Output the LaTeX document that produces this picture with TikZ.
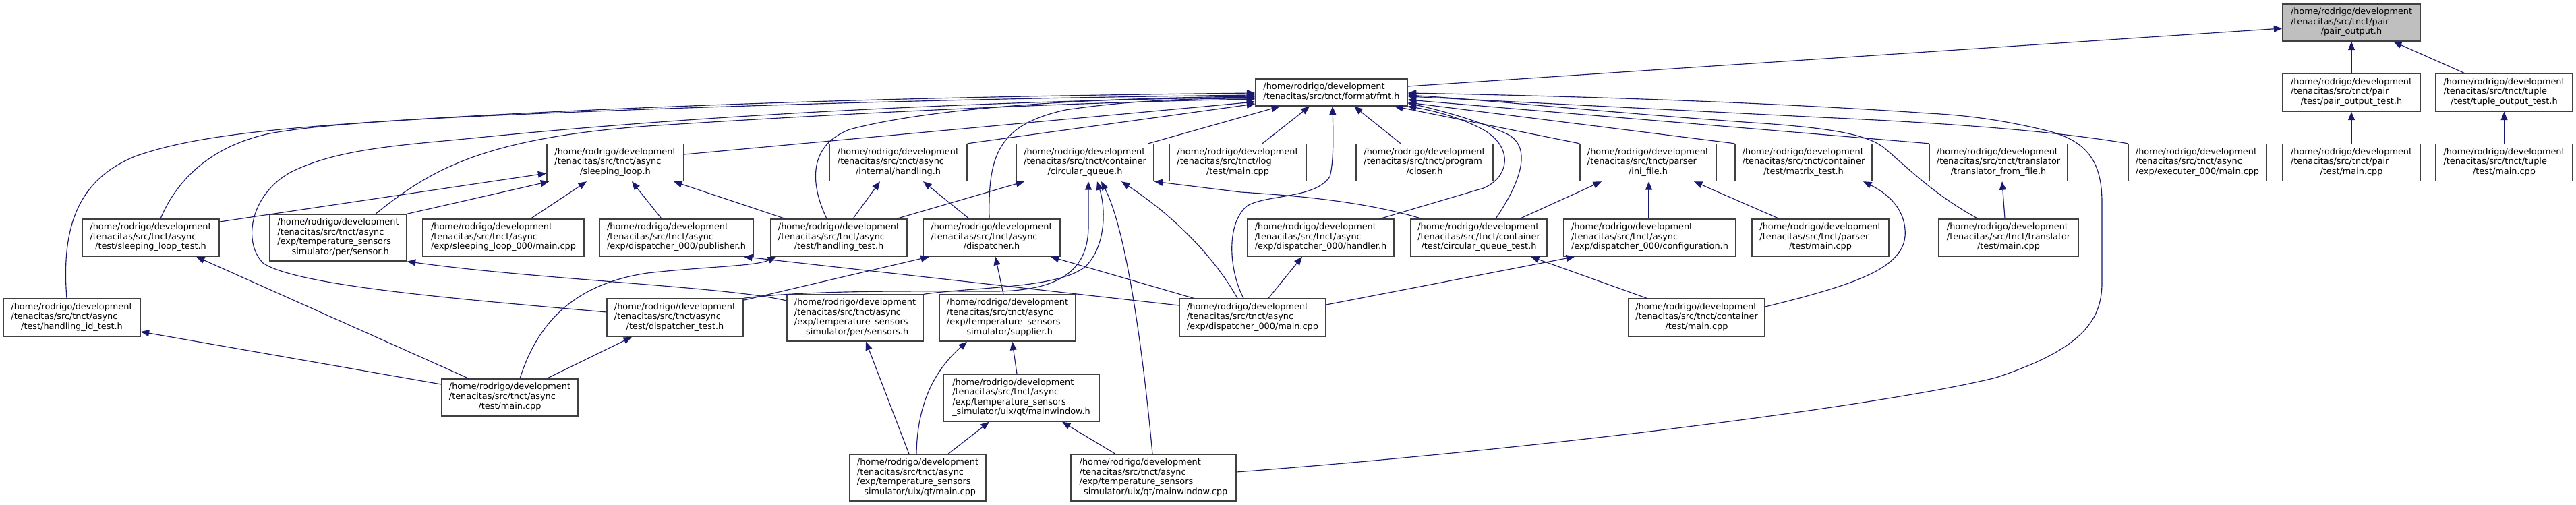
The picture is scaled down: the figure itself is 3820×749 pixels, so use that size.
\documentclass[tikz,border=0pt]{standalone}
\usepackage{fontspec}
\setmainfont{DejaVu Sans}
\usetikzlibrary{arrows.meta}
\definecolor{edgecol}{HTML}{191970}
\definecolor{boxcol}{HTML}{404040}
\definecolor{hlfill}{HTML}{BFBFBF}
\newcommand\labtwo[2]{\begin{tabular}{@{}l@{}}#1\\\multicolumn{1}{@{}c@{}}{#2}\end{tabular}}
\newcommand\labthree[3]{\begin{tabular}{@{}l@{}}#1\\#2\\\multicolumn{1}{@{}c@{}}{#3}\end{tabular}}
\newcommand\labfour[4]{\begin{tabular}{@{}l@{}}#1\\#2\\#3\\\multicolumn{1}{@{}c@{}}{#4}\end{tabular}}
\newcommand\hrd{/home/rodrigo/development}
\newcommand\tsa{/tenacitas/src/tnct/async}
\newcommand\ets{/exp/temperature\_sensors}
\newcommand\nd[6]{\node[box,minimum width=#4pt,minimum height=#5pt] (#1) at (#2,#3) {#6};}
\begin{document}
\begin{tikzpicture}[x=1pt,y=-1pt,
 box/.style={draw=boxcol,line width=1.4pt,fill=white,inner sep=0pt,font=\fontsize{12.85}{14.5}\selectfont},
 hl/.style={box,fill=hlfill},
 edge/.style={draw=edgecol,line width=1.15pt,-{Triangle[length=12.5pt,width=10pt]}}]
\useasboundingbox (0,0) rectangle (3820,749);
% rank 0/1
\node[hl,minimum width=204pt,minimum height=55pt] (P0) at (3487,33.5) {\labthree{\hrd}{/tenacitas/src/tnct/pair}{/pair\_output.h}};
\nd{fmt}{1974.5}{137}{225}{40}{\labtwo{\hrd}{/tenacitas/src/tnct/format/fmt.h}}
\nd{pot}{3487}{137}{204}{56}{\labthree{\hrd}{/tenacitas/src/tnct/pair}{/test/pair\_output\_test.h}}
\nd{tot}{3713.5}{137}{203}{56}{\labthree{\hrd}{/tenacitas/src/tnct/tuple}{/test/tuple\_output\_test.h}}
% rank 2
\nd{sl}{912.5}{241}{203}{55}{\labthree{\hrd}{\tsa}{/sleeping\_loop.h}}
\nd{hdl}{1332}{241}{204}{55}{\labthree{\hrd}{\tsa}{/internal/handling.h}}
\nd{cq}{1609}{241}{204}{55}{\labthree{\hrd}{/tenacitas/src/tnct/container}{/circular\_queue.h}}
\nd{logm}{1835.5}{241}{203}{55}{\labthree{\hrd}{/tenacitas/src/tnct/log}{/test/main.cpp}}
\nd{clo}{2112.5}{241}{203}{55}{\labthree{\hrd}{/tenacitas/src/tnct/program}{/closer.h}}
\nd{ini}{2444}{241}{202}{55}{\labthree{\hrd}{/tenacitas/src/tnct/parser}{/ini\_file.h}}
\nd{mat}{2674.5}{241}{203}{55}{\labthree{\hrd}{/tenacitas/src/tnct/container}{/test/matrix\_test.h}}
\nd{tff}{2963.5}{241}{205}{55}{\labthree{\hrd}{/tenacitas/src/tnct/translator}{/translator\_from\_file.h}}
\nd{exe}{3258.5}{241}{205}{55}{\labthree{\hrd}{\tsa}{/exp/executer\_000/main.cpp}}
\nd{pm}{3487}{241}{204}{55}{\labthree{\hrd}{/tenacitas/src/tnct/pair}{/test/main.cpp}}
\nd{tm}{3713.5}{241}{203}{55}{\labthree{\hrd}{/tenacitas/src/tnct/tuple}{/test/main.cpp}}
% rank 3
\nd{slt}{223.5}{352.5}{203}{55}{\labthree{\hrd}{\tsa}{/test/sleeping\_loop\_test.h}}
\nd{sen}{501.5}{352.5}{203}{69}{\labfour{\hrd}{\tsa}{\ets}{\_simulator/per/sensor.h}}
\nd{slz}{746.5}{352.5}{239}{55}{\labthree{\hrd}{\tsa}{/exp/sleeping\_loop\_000/main.cpp}}
\nd{pub}{1003}{352.5}{228}{55}{\labthree{\hrd}{\tsa}{/exp/dispatcher\_000/publisher.h}}
\nd{ht}{1244}{352.5}{202}{55}{\labthree{\hrd}{\tsa}{/test/handling\_test.h}}
\nd{dis}{1470.5}{352.5}{203}{55}{\labthree{\hrd}{\tsa}{/dispatcher.h}}
\nd{han}{1958.5}{352.5}{217}{55}{\labthree{\hrd}{\tsa}{/exp/dispatcher\_000/handler.h}}
\nd{cqt}{2193}{352.5}{202}{55}{\labthree{\hrd}{/tenacitas/src/tnct/container}{/test/circular\_queue\_test.h}}
\nd{cfg}{2446.5}{352.5}{255}{55}{\labthree{\hrd}{\tsa}{/exp/dispatcher\_000/configuration.h}}
\nd{prm}{2699.5}{352.5}{203}{55}{\labthree{\hrd}{/tenacitas/src/tnct/parser}{/test/main.cpp}}
\nd{trm}{2978.5}{352.5}{207}{55}{\labthree{\hrd}{/tenacitas/src/tnct/translator}{/test/main.cpp}}
% rank 4
\nd{hit}{106.5}{471}{203}{56}{\labthree{\hrd}{\tsa}{/test/handling\_id\_test.h}}
\nd{dt}{1001}{471}{202}{56}{\labthree{\hrd}{\tsa}{/test/dispatcher\_test.h}}
\nd{sens}{1268}{471.5}{202}{69}{\labfour{\hrd}{\tsa}{\ets}{\_simulator/per/sensors.h}}
\nd{sup}{1494}{471.5}{202}{69}{\labfour{\hrd}{\tsa}{\ets}{\_simulator/supplier.h}}
\nd{dzm}{1857.5}{471}{217}{56}{\labthree{\hrd}{\tsa}{/exp/dispatcher\_000/main.cpp}}
\nd{ctm}{2516}{471}{202}{56}{\labthree{\hrd}{/tenacitas/src/tnct/container}{/test/main.cpp}}
% rank 5/6
\nd{atm}{756}{589.5}{202}{55}{\labthree{\hrd}{\tsa}{/test/main.cpp}}
\nd{mwh}{1514.5}{590}{231}{70}{\labfour{\hrd}{\tsa}{\ets}{\_simulator/uix/qt/mainwindow.h}}
\nd{uxm}{1361}{708.5}{202}{69}{\labfour{\hrd}{\tsa}{\ets}{\_simulator/uix/qt/main.cpp}}
\nd{mwc}{1710.5}{708.5}{245}{69}{\labfour{\hrd}{\tsa}{\ets}{\_simulator/uix/qt/mainwindow.cpp}}
% edges to pair_output.h
\draw[edge] ([yshift=9pt]fmt.east) -- ([yshift=-8.5pt]P0.west);
\draw[edge] (pot.north) -- (P0.south);
\draw[edge] ([xshift=-59.5pt]tot.north) -- ([xshift=62pt]P0.south);
\draw[edge] (pm.north) -- (pot.south);
\draw[edge] (tm.north) -- (tot.south);
% edges to fmt.h, left side
\draw[edge] ([xshift=-7.5pt]hit.north) .. controls (90,330) and (120,265) .. (200,232) .. controls (290,200) and (420,188) .. (700,172) .. controls (1100,150) and (1500,142) .. ([yshift=-1pt]fmt.west);
\draw[edge] ([xshift=14.5pt]slt.north) .. controls (265,260) and (320,215) .. (400,198) .. controls (500,180) and (700,172) .. (960,162) .. controls (1300,150) and (1600,144) .. ([yshift=-4pt]fmt.west);
\draw[edge] ([yshift=8pt]dt.west) .. controls (700,445) and (440,425) .. (390,390) .. controls (360,360) and (370,290) .. (430,256) .. controls (500,220) and (600,215) .. (700,205) .. controls (1100,165) and (1500,150) .. ([yshift=-7pt]fmt.west);
\draw[edge] ([xshift=55.5pt]sen.north) .. controls (640,250) and (720,205) .. (960,187) .. controls (1300,165) and (1600,152) .. ([yshift=-10pt]fmt.west);
\draw[edge] ([yshift=12pt]sl.east) -- ([yshift=-14pt]fmt.west);
\draw[edge] (hdl.north east) -- ([yshift=-17pt]fmt.west);
\draw[edge] ([xshift=-18pt]ht.north) .. controls (1200,270) and (1200,215) .. (1260,192) .. controls (1380,160) and (1600,146) .. ([yshift=-6pt]fmt.west);
\draw[edge] ([xshift=-3.5pt]dis.north) .. controls (1465,230) and (1480,185) .. (1580,163) .. controls (1680,148) and (1780,146) .. ([yshift=-9pt]fmt.west);
% edges to fmt.h, bottom
\draw[edge] ([xshift=94pt]cq.north) -- ([xshift=-76.5pt]fmt.south);
\draw[edge] ([xshift=36.5pt]logm.north) -- ([xshift=-32.5pt]fmt.south);
\draw[edge] ([xshift=-35.5pt]clo.north) -- ([xshift=33.5pt]fmt.south);
\draw[edge] (ini.north west) -- ([xshift=93.5pt]fmt.south);
\draw[edge] ([xshift=-13.5pt]dzm.north) .. controls (1822,400) and (1818,330) .. (1850,305) .. controls (1880,288) and (1950,295) .. (1972,262) .. controls (1978,240) and (1977,200) .. ([xshift=1.5pt]fmt.south);
% edges to fmt.h, right side
\draw[edge] ([xshift=88.5pt]han.north) -- (2200,279) .. controls (2240,262) and (2245,215) .. (2195,190) .. controls (2160,172) and (2120,163) .. (fmt.south east);
\draw[edge] ([xshift=25pt]cqt.north) .. controls (2255,270) and (2275,215) .. (2231,197) .. controls (2190,178) and (2130,162) .. ([yshift=-16pt]fmt.east);
\draw[edge] (mat.north west) -- ([yshift=-15pt]fmt.east);
\draw[edge] (tff.north west) -- ([yshift=-11pt]fmt.east);
\draw[edge] (exe.north west) .. controls (3050,195) and (2900,183) .. (2700,174) -- ([yshift=-6pt]fmt.east);
\draw[edge] ([xshift=-45.5pt]trm.north) .. controls (2870,290) and (2830,250) .. (2795,220) .. controls (2770,200) and (2720,190) .. (2600,182) .. controls (2400,168) and (2200,148) .. ([yshift=-4pt]fmt.east);
\draw[edge] ([yshift=8.5pt]mwc.east) .. controls (2300,665) and (2800,600) .. (2960,560) .. controls (3080,520) and (3117,480) .. (3117,420) -- (3117,300) .. controls (3117,240) and (3095,210) .. (3040,195) .. controls (2960,175) and (2900,170) .. (2860,168) .. controls (2600,150) and (2300,142) .. ([yshift=-1pt]fmt.east);
% sleeping_loop.h
\draw[edge] ([yshift=23.5pt]slt.east) -- ([yshift=-16pt]sl.west);
\draw[edge] (sen.north east) -- ([xshift=4pt]sl.south west);
\draw[edge] ([xshift=40.5pt]slz.north) -- ([xshift=-42.5pt]sl.south);
\draw[edge] ([xshift=-22pt]pub.north) -- ([xshift=24.5pt]sl.south);
\draw[edge] ([xshift=-80pt]ht.north) -- ([xshift=86.5pt]sl.south);
% handling.h
\draw[edge] ([xshift=21pt]ht.north) -- ([xshift=-27pt]hdl.south);
\draw[edge] ([xshift=-33.5pt]dis.north) -- ([xshift=37pt]hdl.south);
% circular_queue.h
\draw[edge] ([xshift=86pt]ht.north) -- ([xshift=-90pt]cq.south);
\draw[edge] (dt.north east) .. controls (1200,430) and (1350,432) .. (1480,432) .. controls (1580,430) and (1614,395) .. (1614,335) -- ([xshift=5pt]cq.south);
\draw[edge] (sens.north east) .. controls (1450,425) and (1570,428) .. (1610,395) .. controls (1640,365) and (1640,310) .. ([xshift=18pt]cq.south);
\draw[edge] ([xshift=-1.5pt]mwc.north) .. controls (1695,520) and (1670,340) .. ([xshift=24pt]cq.south);
\draw[edge] ([xshift=-22.5pt]dzm.north) .. controls (1800,380) and (1740,320) .. ([xshift=54pt]cq.south);
\draw[edge] ([xshift=-85pt]cqt.north) .. controls (2020,298) and (1920,290) .. (1840,285) -- (cq.south east);
% others
\draw[edge] ([yshift=25.5pt]sens.west) .. controls (1080,425) and (800,415) .. (sen.south east);
\draw[edge] ([yshift=19.5pt]atm.west) -- ([yshift=-21pt]hit.east);
\draw[edge] ([xshift=-61pt]atm.north) -- ([xshift=67.5pt]slt.south);
\draw[edge] ([xshift=15pt]atm.north) .. controls (800,470) and (860,420) .. (960,405) .. controls (1050,395) and (1120,395) .. ([xshift=-93pt]ht.south);
\draw[edge] ([xshift=55pt]atm.north) -- ([xshift=-64pt]dt.south);
\draw[edge] ([yshift=-3pt]dt.north east) -- ([xshift=-92.5pt]dis.south);
\draw[edge] ([xshift=-6pt]sup.north) -- ([xshift=5.5pt]dis.south);
\draw[edge] ([xshift=-87.5pt]dzm.north) -- ([xshift=87.5pt]dis.south);
\draw[edge] ([yshift=18pt]dzm.west) -- ([xshift=100pt]pub.south);
\draw[edge] ([xshift=-13pt]uxm.north) -- ([xshift=16pt]sens.south);
\draw[edge] ([xshift=-2pt]uxm.north) .. controls (1360,600) and (1385,550) .. ([xshift=-60pt]sup.south);
\draw[edge] ([xshift=-6.5pt]mwh.north) -- ([xshift=7pt]sup.south);
\draw[edge] ([xshift=45pt]uxm.north) -- ([xshift=-47.5pt]mwh.south);
\draw[edge] ([xshift=-56.5pt]mwc.north) -- ([xshift=60.5pt]mwh.south);
\draw[edge] ([xshift=23.5pt]dzm.north) -- ([xshift=-27.5pt]han.south);
\draw[edge] ([yshift=19pt]dzm.east) -- ([xshift=-111.5pt]cfg.south);
\draw[edge] ([xshift=61pt]cqt.north) -- ([xshift=-69pt]ini.south);
\draw[edge] ([xshift=-1.5pt]cfg.north) -- ([xshift=1pt]ini.south);
\draw[edge] ([xshift=-61.5pt]prm.north) -- ([xshift=68pt]ini.south);
\draw[edge] ([xshift=-74pt]ctm.north) -- ([xshift=77pt]cqt.south);
\draw[edge] ([yshift=16pt]ctm.east) .. controls (2760,420) and (2830,395) .. (2825,340) .. controls (2822,305) and (2795,285) .. ([xshift=88.5pt]mat.south);
\draw[edge] ([xshift=-5.5pt]trm.north) -- ([xshift=5.5pt]tff.south);
\end{tikzpicture}
\end{document}
